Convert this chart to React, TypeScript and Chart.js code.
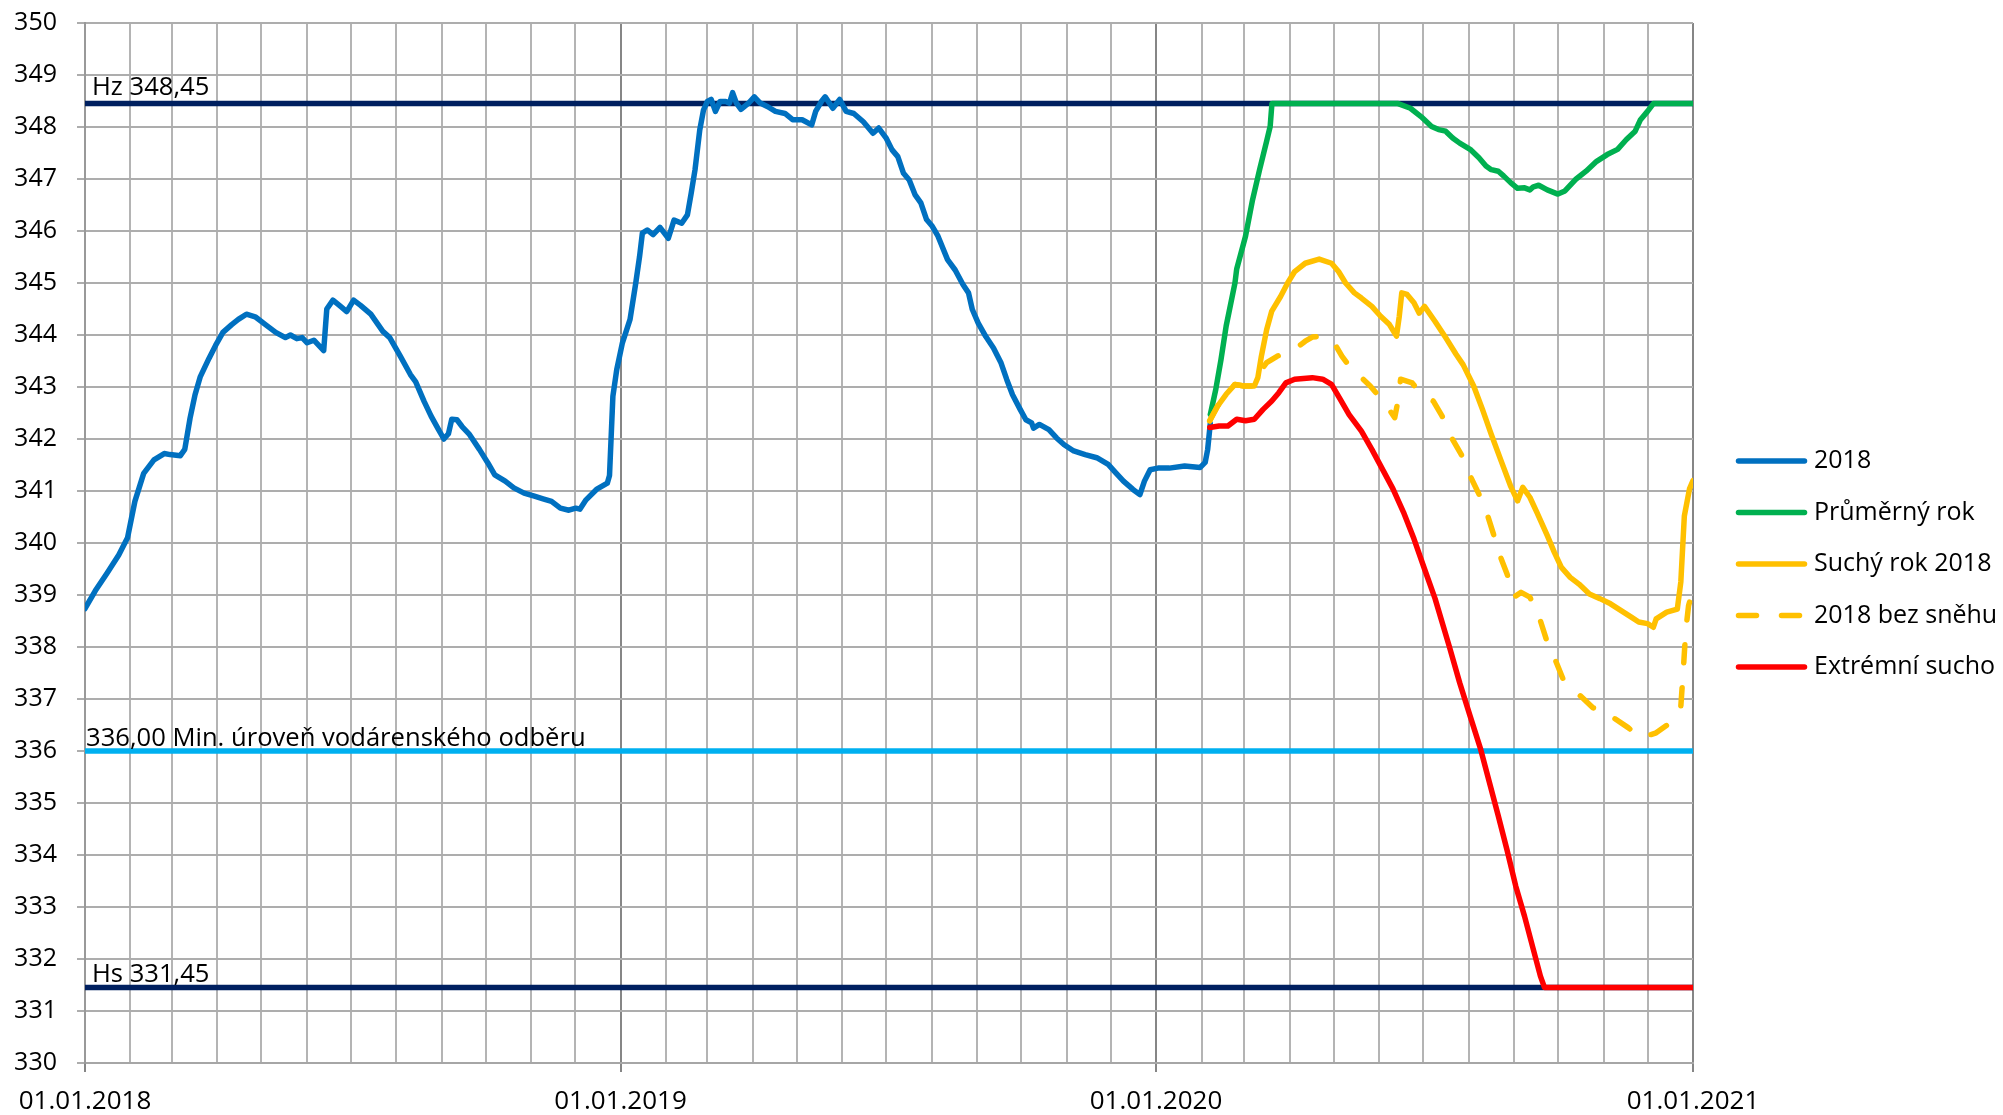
import React, { useEffect, useRef } from 'react';
import { Chart, registerables } from 'chart.js';

Chart.register(...registerables);

const FONT = '"Open Sans", "DejaVu Sans", sans-serif';

// x values are days since 01.01.2018
const xMax = 1096;
const yearTickDays = [0, 365, 730, 1096];
const yearTickLabels = ['01.01.2018', '01.01.2019', '01.01.2020', '01.01.2021'];

// Series "2018" (measured level)
const s2018Days = [
  0, 7, 15, 23, 29, 34, 40, 47, 54, 58, 65, 68, 71.6, 75, 78.6, 84.5, 89, 94, 100, 104.5,
  110, 116, 123, 130, 136.6, 140, 144.4, 148, 151.4, 156, 162.7, 164.8, 169, 174.2, 178.4,
  183.1, 187.8, 194.8, 203, 207.7, 214.8, 221.8, 225.4, 231.2, 235.9, 240.6, 244.6, 247.7,
  250, 253.5, 257, 261.7, 268.8, 274.6, 279.3, 286.4, 292.3, 299.3, 306.3, 312.2, 318, 324,
  329.8, 334.5, 337.3, 341.5, 348.6, 356, 357.5, 359.8, 362.4, 366.3, 371.5, 375.4, 378,
  379.9, 383.2, 387.2, 391.9, 397.6, 401.5, 406.7, 410.6, 413.2, 415.8, 419, 421.6, 424.2,
  426.8, 429.7, 432.8, 436.7, 439.3, 441.4, 444, 447.1, 452.3, 456.2, 460.2, 465.4, 470.6,
  477.1, 482.3, 488.8, 495.3, 498, 501.9, 504.5, 509.7, 514.4, 518.8, 524, 530.5, 537.1,
  541, 546.2, 550.1, 554, 557.9, 561.8, 565.7, 569.7, 573.6, 577.5, 581.4, 587.9, 593.1,
  598.4, 602.2, 604.8, 608.8, 614, 619.2, 624.4, 628.3, 632.2, 637.4, 641.3, 645.2, 646.5,
  650.5, 657, 662.2, 667.4, 673.9, 681.7, 689.6, 697.4, 702.6, 707.8, 714.3, 719, 722.1,
  726, 731.3, 739, 749.5, 760, 763.5, 765.2, 767,
];
const s2018Values = [
  338.74, 339.08, 339.42, 339.77, 340.1, 340.8, 341.34, 341.6, 341.72, 341.7, 341.68, 341.8,
  342.4, 342.85, 343.2, 343.55, 343.8, 344.05, 344.2, 344.3, 344.4, 344.35, 344.2, 344.05,
  343.95, 344.0, 343.93, 343.95, 343.85, 343.9, 343.7, 344.5, 344.67, 344.55, 344.45, 344.67,
  344.57, 344.4, 344.07, 343.95, 343.6, 343.24, 343.1, 342.72, 342.44, 342.2, 342.0, 342.1,
  342.38, 342.37, 342.24, 342.1, 341.8, 341.54, 341.31, 341.19, 341.06, 340.96, 340.9,
  340.85, 340.8, 340.67, 340.63, 340.67, 340.65, 340.83, 341.03, 341.15, 341.3, 342.82,
  343.33, 343.85, 344.3, 345.0, 345.51, 345.96, 346.02, 345.93, 346.07, 345.86, 346.21,
  346.15, 346.31, 346.73, 347.18, 347.94, 348.33, 348.49, 348.53, 348.3, 348.49, 348.49,
  348.46, 348.66, 348.46, 348.34, 348.46, 348.58, 348.46, 348.39, 348.3, 348.26, 348.14,
  348.14, 348.04, 348.3, 348.49, 348.58, 348.36, 348.53, 348.3, 348.26, 348.1, 347.88,
  347.98, 347.78, 347.56, 347.43, 347.11, 346.98, 346.7, 346.54, 346.22, 346.09, 345.9,
  345.45, 345.25, 344.97, 344.81, 344.49, 344.23, 343.97, 343.75, 343.46, 343.14, 342.85,
  342.57, 342.37, 342.31, 342.21, 342.28, 342.18, 342.02, 341.89, 341.77, 341.7, 341.64,
  341.51, 341.35, 341.19, 341.03, 340.93, 341.19, 341.41, 341.44, 341.44, 341.48, 341.45,
  341.55, 341.8, 342.3,
];

// Series "Průměrný rok"
const avgDays = [
  767, 770.7, 774.3, 777.8, 783.8, 785, 791, 795.8, 800.6, 805.4, 807.8, 809, 895, 903.4,
  910.6, 917.8, 922.6, 927.4, 932.2, 937, 944.1, 950.1, 954.9, 958.5, 963.3, 966.9, 971.7,
  976.4, 981.2, 984.8, 987.2, 990.8, 996.7, 1003.9, 1008.7, 1015.9, 1023.1, 1030.3, 1037.5,
  1044.6, 1050.6, 1056.6, 1060.2, 1065, 1069, 1096,
];
const avgValues = [
  342.47, 342.95, 343.53, 344.17, 345.0, 345.27, 345.9, 346.6, 347.18, 347.73, 348.01,
  348.45, 348.45, 348.36, 348.2, 348.01, 347.95, 347.92, 347.79, 347.69, 347.57, 347.41,
  347.25, 347.18, 347.15, 347.06, 346.93, 346.82, 346.83, 346.79, 346.85, 346.88, 346.79,
  346.71, 346.77, 346.99, 347.15, 347.34, 347.47, 347.57, 347.76, 347.92, 348.14, 348.3,
  348.45, 348.45,
];

// Series "Suchý rok 2018"
const dryDays = [
  766.6, 771.9, 777.8, 783.8, 789.8, 797, 799.4, 801.8, 805.4, 808.9, 814.9, 819.7, 824.5,
  831.7, 841.2, 849.6, 854.4, 859.2, 865.2, 870, 877.1, 883.1, 889.1, 893.9, 895.8, 897.5,
  901.1, 905.8, 909.4, 913, 920.2, 927.4, 934.5, 939.3, 946.5, 952.5, 958.5, 965.6, 971.6,
  976.4, 980, 984.8, 989.6, 996.7, 1001.5, 1006.3, 1012.3, 1018.3, 1025.4, 1032.6, 1039.8,
  1047, 1054.2, 1059, 1065, 1069, 1070.9, 1078.1, 1085.3, 1087.7, 1090.1, 1093.6, 1096,
];
const dryValues = [
  342.35, 342.63, 342.86, 343.05, 343.02, 343.02, 343.18, 343.59, 344.1, 344.46, 344.74,
  345.0, 345.22, 345.38, 345.46, 345.38, 345.22, 345.0, 344.81, 344.71, 344.55, 344.36,
  344.2, 343.98, 344.36, 344.81, 344.78, 344.62, 344.42, 344.55, 344.26, 343.95, 343.63,
  343.43, 343.02, 342.57, 342.09, 341.55, 341.1, 340.81, 341.07, 340.88, 340.59, 340.14,
  339.82, 339.53, 339.34, 339.21, 339.02, 338.93, 338.83, 338.7, 338.57, 338.48, 338.45,
  338.38, 338.54, 338.67, 338.73, 339.25, 340.52, 341.04, 341.2,
];

// Series "2018 bez sněhu"
const noSnowDays = [
  766.6, 771.9, 777.8, 783.8, 789.8, 797, 801, 805.4, 812.5, 825.7, 831.7, 836.5, 843,
  850.8, 856.8, 866.4, 870, 876, 885.6, 892.7, 895.1, 896.7, 904.6, 910.6, 919, 925, 932.2,
  938.1, 944.1, 950.1, 956.1, 959.7, 964.4, 969.2, 974, 978.8, 984.8, 990.8, 998, 1001,
  1007.5, 1015.9, 1027.8, 1035, 1038.6, 1051.8, 1060.2, 1070.9, 1080.5, 1087.7, 1089.5,
  1091, 1093, 1095,
];
const noSnowValues = [
  342.35, 342.63, 342.86, 343.05, 343.02, 343.02, 343.3, 343.47, 343.59, 343.75, 343.88,
  343.96, 343.98, 343.88, 343.59, 343.22, 343.18, 343.02, 342.7, 342.41, 342.76, 343.15,
  343.08, 342.86, 342.73, 342.44, 341.99, 341.7, 341.29, 340.94, 340.52, 340.2, 339.76,
  339.41, 338.96, 339.05, 338.96, 338.61, 337.97, 337.83, 337.38, 337.15, 336.83, 336.8,
  336.7, 336.45, 336.25, 336.35, 336.54, 336.86, 337.6, 338.3, 338.8, 339.0,
];

// Series "Extrémní sucho"
const extremeDays = [
  766.6, 773, 779, 785, 791, 797, 803, 808.9, 813.7, 818.5, 824.5, 836.5, 843.6, 849.6,
  855.6, 861.6, 870, 877.1, 884.3, 891.5, 898.7, 905.8, 913, 920.2, 929.8, 937, 944.1,
  951.3, 957.3, 963.3, 969.2, 975.2, 981.2, 987.2, 992, 994.8, 1096,
];
const extremeValues = [
  342.22, 342.25, 342.25, 342.38, 342.35, 342.38, 342.57, 342.73, 342.89, 343.08, 343.15,
  343.18, 343.15, 343.05, 342.76, 342.47, 342.15, 341.8, 341.42, 341.04, 340.59, 340.08,
  339.5, 338.93, 338.02, 337.31, 336.67, 336.03, 335.39, 334.75, 334.1, 333.4, 332.82,
  332.18, 331.67, 331.45, 331.45,
];

// Reference levels
const hzLevel = 348.45;
const minLevel = 336.0;
const hsLevel = 331.45;
const hzLabel = 'Hz 348,45';
const minLabel = '336,00 Min. úroveň vodárenského odběru';
const hsLabel = 'Hs 331,45';

const seriesNames = ['2018', 'Průměrný rok', 'Suchý rok 2018', '2018 bez sněhu', 'Extrémní sucho'];
const seriesColors = ['#0070C0', '#00B050', '#FFC000', '#FFC000', '#FF0000'];
const DASH = [18, 25];

const yMin = 330;
const yMax = 350;

// month gridline positions (days since 01.01.2018)
const monthTicks: number[] = [];
for (let yr = 2018; yr <= 2020; yr++) {
  for (let m = 0; m < 12; m++) {
    monthTicks.push(Math.round((Date.UTC(yr, m, 1) - Date.UTC(2018, 0, 1)) / 86400000));
  }
}
monthTicks.push(xMax);

const pts = (days: number[], vals: number[]) => days.map((d, i) => ({ x: d, y: vals[i] }));

const overlayPlugin = {
  id: 'overlayTexts',
  afterDatasetsDraw(chart: any) {
    const { ctx, chartArea } = chart;
    const y = chart.scales.y;
    ctx.save();
    ctx.font = `25.6px ${FONT}`;
    ctx.fillStyle = '#000000';
    ctx.textAlign = 'left';
    ctx.textBaseline = 'alphabetic';
    ctx.fillText(hzLabel, chartArea.left + 7, y.getPixelForValue(hzLevel) - 9);
    ctx.fillText(minLabel, chartArea.left + 1, y.getPixelForValue(minLevel) - 5);
    ctx.fillText(hsLabel, chartArea.left + 7, y.getPixelForValue(hsLevel) - 5.5);

    // legend
    ctx.font = `25px ${FONT}`;
    const lx0 = chartArea.right + 43;
    const lx1 = chartArea.right + 114;
    const tx = chartArea.right + 121;
    const ly0 = 461;
    const step = 51.5;
    seriesNames.forEach((name, i) => {
      const ly = ly0 + i * step;
      ctx.beginPath();
      ctx.strokeStyle = seriesColors[i];
      ctx.lineWidth = 5.5;
      ctx.lineCap = 'round';
      ctx.setLineDash(i === 3 ? DASH : []);
      ctx.moveTo(lx0 + 2.5, ly);
      ctx.lineTo(lx1 - 2.5, ly);
      ctx.stroke();
      ctx.setLineDash([]);
      ctx.textBaseline = 'middle';
      ctx.fillStyle = '#000000';
      ctx.fillText(name, tx, ly);
    });
    ctx.restore();
  },
};

export default function App() {
  const canvasRef = useRef<HTMLCanvasElement | null>(null);

  useEffect(() => {
    if (!canvasRef.current) return;
    const yearSet = new Set(yearTickDays);
    const lineDs = (label: string, data: any[], color: string, order: number, dash: number[] = []) => ({
      label,
      data,
      borderColor: color,
      backgroundColor: color,
      borderWidth: 5.5,
      borderDash: dash,
      borderCapStyle: 'round',
      borderJoinStyle: 'round',
      pointRadius: 0,
      pointHoverRadius: 0,
      tension: 0,
      fill: false,
      order,
    });
    const refDs = (label: string, level: number, color: string, order: number) => ({
      label,
      data: [
        { x: 0, y: level },
        { x: xMax, y: level },
      ],
      borderColor: color,
      backgroundColor: color,
      borderWidth: 5.5,
      pointRadius: 0,
      pointHoverRadius: 0,
      fill: false,
      order,
    });

    const chart = new Chart(canvasRef.current, {
      type: 'line',
      data: {
        datasets: [
          lineDs(seriesNames[4], pts(extremeDays, extremeValues), seriesColors[4], 1),
          lineDs(seriesNames[3], pts(noSnowDays, noSnowValues), seriesColors[3], 2, DASH),
          lineDs(seriesNames[2], pts(dryDays, dryValues), seriesColors[2], 3),
          lineDs(seriesNames[1], pts(avgDays, avgValues), seriesColors[1], 4),
          lineDs(seriesNames[0], pts(s2018Days, s2018Values), seriesColors[0], 5),
          refDs(hzLabel, hzLevel, '#002060', 10),
          refDs(minLabel, minLevel, '#00B0F0', 11),
          refDs(hsLabel, hsLevel, '#002060', 12),
        ] as any,
      },
      options: {
        responsive: false,
        animation: false,
        devicePixelRatio: 1,
        layout: { padding: { top: 23, right: 310, bottom: 0, left: 0 } },
        plugins: {
          legend: { display: false },
          tooltip: { enabled: false },
        },
        scales: {
          x: {
            type: 'linear',
            min: 0,
            max: xMax,
            afterBuildTicks: (scale: any) => {
              scale.ticks = monthTicks.map((v) => ({ value: v }));
            },
            afterFit: (scale: any) => {
              scale.height = 52;
            },
            ticks: {
              autoSkip: false,
              maxRotation: 0,
              minRotation: 0,
              padding: 14,
              color: '#000000',
              font: { family: FONT, size: 26 },
              callback: (value: any) => {
                const idx = yearTickDays.indexOf(Number(value));
                return idx >= 0 ? yearTickLabels[idx] : '';
              },
            },
            grid: {
              lineWidth: 2,
              tickLength: 9,
              color: (c: any) => (c.tick && yearSet.has(c.tick.value) ? '#868686' : '#b4b4b4'),
              tickColor: (c: any) => (c.tick && yearSet.has(c.tick.value) ? '#868686' : 'rgba(0,0,0,0)'),
            },
            border: { display: true, color: '#a6a6a6', width: 2 },
          },
          y: {
            type: 'linear',
            min: yMin,
            max: yMax,
            afterFit: (scale: any) => {
              scale.width = 85;
              scale.paddingTop = 0;
              scale.paddingBottom = 0;
            },
            ticks: {
              stepSize: 1,
              padding: 20,
              color: '#000000',
              font: { family: FONT, size: 25 },
              callback: (value: any) => String(value),
            },
            grid: {
              lineWidth: 2,
              tickLength: 8,
              color: '#adadad',
              tickColor: '#adadad',
            },
            border: { display: true, color: '#999999', width: 2 },
          },
        },
      } as any,
      plugins: [overlayPlugin],
    });

    return () => {
      chart.destroy();
    };
  }, []);

  return (
    <div style={{ position: 'absolute', left: 0, top: 0, width: 2003, height: 1115, background: '#ffffff' }}>
      <canvas ref={canvasRef} width={2003} height={1115} style={{ width: 2003, height: 1115, display: 'block' }} />
    </div>
  );
}
